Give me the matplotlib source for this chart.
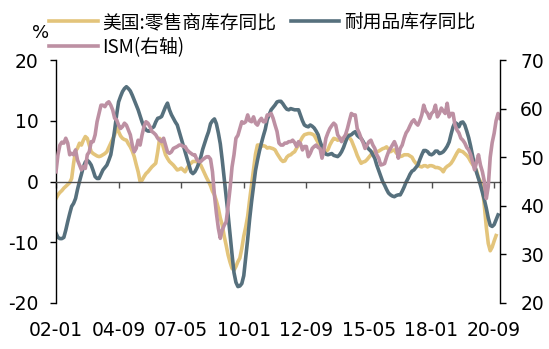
import numpy as np
import matplotlib
matplotlib.use("Agg")
import matplotlib.pyplot as plt

plt.rcParams["axes.unicode_minus"] = False

# ---------------- data (monthly, starting 2002-01) ----------------
retail_inv_yoy = [
    -2.8, -2.2, -1.8, -1.5, -1.1, -0.8, -0.5, -0.2, 0.5, 3.0, 5.0, 5.5,
    6.3, 6.0, 6.8, 7.4, 7.1, 6.0, 4.9, 4.6, 4.4, 4.2, 4.1, 4.2,
    4.4, 4.6, 4.9, 5.6, 6.3, 7.0, 7.7, 9.0, 8.2, 7.5, 7.1, 6.9,
    6.8, 6.2, 5.7, 5.0, 4.1, 2.8, 1.6, 0.0, 0.2, 0.8, 1.3, 1.6,
    2.0, 2.4, 2.7, 3.0, 4.9, 7.1, 6.6, 5.5, 4.4, 3.8, 3.3, 3.0,
    2.7, 2.3, 1.9, 2.0, 2.2, 1.9, 1.6, 2.2, 2.7, 3.0, 3.3, 3.3,
    3.3, 3.0, 2.7, 2.0, 1.3, 0.6, 0.0, -0.7, -1.6, -2.2, -3.2, -4.4,
    -6.0, -7.2, -9.0, -10.5, -12.1, -13.3, -14.3, -14.6, -14.0, -13.2, -12.6, -11.0,
    -9.0, -7.5, -5.7, -3.0, -0.5, 2.0, 4.5, 6.0, 6.0, 5.8, 5.9, 5.8,
    5.5, 5.6, 5.5, 5.4, 5.2, 4.6, 4.1, 3.6, 3.3, 3.4, 4.0, 4.3,
    4.4, 4.7, 4.9, 5.5, 6.0, 6.7, 7.3, 7.7, 7.8, 7.9, 7.9, 7.8,
    7.6, 7.0, 6.4, 5.6, 5.1, 4.9, 5.0, 5.2, 6.0, 6.6, 7.1, 7.0,
    6.8, 6.9, 7.1, 6.8, 7.3, 7.7, 7.2, 6.8, 6.0, 5.2, 4.3, 3.6,
    3.0, 3.2, 3.3, 3.6, 4.0, 4.4, 4.7, 4.9, 4.9, 5.0, 5.2, 5.4,
    5.5, 5.7, 5.3, 4.9, 5.1, 5.2, 4.7, 4.4, 4.1, 4.2, 4.4, 4.4,
    4.4, 4.2, 4.0, 3.4, 3.0, 2.7, 2.5, 2.4, 2.6, 2.6, 2.4, 2.6,
    2.6, 2.5, 2.3, 2.3, 2.2, 2.0, 1.6, 2.2, 2.5, 2.7, 3.0, 3.5,
    4.1, 4.7, 5.2, 5.0, 4.9, 4.6, 4.3, 3.9, 3.3, 2.8, 2.4, 1.8,
    0.6, 0.0, -1.0, -4.0, -7.5, -10.2, -11.4, -10.8, -9.8, -8.9,
]

durable_inv_yoy = [
    -8.5, -9.2, -9.4, -9.4, -9.2, -8.0, -6.6, -5.3, -4.1, -3.6, -2.8, -1.3,
    0.0, 1.2, 2.4, 3.2, 3.5, 3.2, 2.7, 1.8, 0.8, 0.5, 0.5, 1.2,
    1.9, 2.3, 2.7, 3.5, 4.4, 6.3, 8.5, 11.0, 13.1, 14.0, 14.8, 15.3,
    15.6, 15.3, 14.9, 14.2, 13.4, 12.6, 11.8, 10.8, 9.8, 9.0, 8.5, 8.3,
    8.3, 8.8, 9.0, 9.8, 10.4, 10.5, 10.7, 11.5, 12.3, 12.9, 11.8, 11.0,
    10.4, 9.8, 9.3, 8.2, 7.1, 6.0, 4.9, 3.8, 2.7, 1.6, 1.3, 1.6,
    2.2, 3.0, 4.0, 5.3, 6.3, 7.3, 8.2, 9.5, 10.0, 10.3, 9.5, 8.0,
    6.2, 3.5, 0.5, -2.5, -5.5, -8.8, -12.0, -15.0, -16.6, -17.3, -17.2, -16.8,
    -15.5, -12.5, -9.5, -6.2, -3.3, -0.8, 1.8, 3.5, 5.0, 6.3, 7.5, 8.6,
    10.2, 11.0, 11.8, 12.2, 12.6, 13.1, 13.2, 13.2, 12.8, 12.3, 11.9, 11.8,
    12.0, 11.9, 11.8, 11.8, 11.8, 10.9, 10.0, 9.3, 9.1, 9.0, 9.3, 9.1,
    8.8, 8.3, 7.7, 6.6, 5.7, 4.9, 4.5, 4.4, 4.5, 4.6, 4.3, 4.2,
    4.1, 4.4, 4.9, 5.6, 6.5, 7.3, 7.6, 7.7, 8.0, 8.2, 7.6, 7.3,
    7.1, 6.6, 6.0, 5.7, 5.3, 5.0, 4.4, 3.8, 2.7, 1.8, 0.9, 0.0,
    -0.6, -1.3, -1.9, -2.2, -2.4, -2.5, -2.3, -2.2, -2.2, -1.6, -0.9, -0.1,
    0.5, 1.2, 1.7, 1.9, 2.3, 2.7, 3.6, 4.4, 5.1, 5.1, 4.9, 4.5,
    4.4, 4.6, 5.0, 5.0, 4.6, 4.7, 4.9, 5.3, 5.8, 6.5, 7.8, 9.0,
    9.7, 9.5, 9.0, 9.7, 9.8, 9.3, 8.3, 7.2, 5.8, 4.2, 2.7, 1.5,
    0.5, -0.6, -1.8, -3.0, -4.4, -6.0, -7.2, -7.4, -7.1, -6.3, -5.5,
]

ism_pmi = [
    47.0, 50.5, 52.5, 53.1, 52.9, 53.9, 52.9, 50.5, 50.8, 50.5, 51.5, 49.4,
    48.4, 47.4, 48.1, 47.7, 50.5, 51.1, 53.2, 53.2, 54.6, 57.3, 59.0, 60.7,
    60.7, 60.4, 61.1, 61.4, 60.7, 59.7, 58.0, 57.7, 56.6, 55.9, 56.3, 57.0,
    56.6, 55.6, 54.6, 52.5, 51.1, 51.8, 53.5, 52.5, 54.6, 56.3, 57.3, 57.0,
    56.3, 55.3, 55.0, 54.6, 53.9, 53.5, 53.2, 53.9, 52.5, 51.1, 50.8, 51.1,
    51.8, 52.0, 52.2, 52.5, 52.5, 52.2, 52.2, 51.5, 51.1, 50.8, 50.5, 50.5,
    49.5, 49.1, 49.1, 49.5, 49.8, 50.1, 50.1, 49.6, 47.0, 42.2, 38.5, 35.4,
    33.3, 35.0, 36.0, 36.7, 40.0, 43.6, 48.0, 50.5, 53.9, 54.5, 55.9, 57.3,
    57.0, 57.3, 58.7, 57.5, 57.3, 58.3, 57.0, 56.6, 57.5, 58.0, 57.3, 57.3,
    58.7, 58.7, 59.0, 58.0, 56.6, 55.3, 52.9, 52.5, 52.5, 52.9, 52.9, 53.2,
    53.2, 53.5, 53.0, 52.2, 53.2, 52.8, 51.5, 52.2, 52.2, 50.1, 50.8, 51.8,
    52.2, 52.5, 52.0, 51.8, 49.8, 51.5, 53.9, 55.0, 55.9, 56.5, 57.0, 56.6,
    54.6, 54.0, 53.2, 54.0, 54.6, 55.9, 57.5, 59.0, 58.7, 58.7, 55.9, 55.0,
    53.9, 53.0, 51.8, 52.5, 53.2, 53.5, 52.5, 51.8, 50.5, 49.8, 48.4, 48.5,
    48.7, 50.0, 51.1, 51.8, 52.5, 53.2, 52.2, 49.8, 51.8, 52.5, 53.9, 55.0,
    55.6, 56.5, 57.3, 57.7, 57.0, 56.6, 57.5, 58.7, 60.7, 59.5, 59.0, 58.0,
    59.0, 59.4, 60.7, 58.3, 59.0, 60.1, 59.5, 59.0, 61.1, 58.3, 59.0, 59.0,
    56.6, 55.6, 55.0, 53.9, 53.5, 52.9, 52.0, 51.5, 50.5, 49.0, 47.4, 49.0,
    50.5, 48.4, 47.0, 45.0, 41.5, 44.0, 50.0, 53.0, 54.9, 57.5, 59.0, 58.0,
]

tick_labels = ["02-01", "04-09", "07-05", "10-01", "12-09", "15-05", "18-01", "20-09"]
series_names = ["美国:零售商库存同比", "耐用品库存同比", "ISM(右轴)"]

# ---------------- plotting ----------------
c_yellow = "#E3C47B"
c_dark = "#56707D"
c_mauve = "#BD90A3"

def month_index(lbl):
    yy, mm = lbl.split("-")
    return (int(yy) - 2) * 12 + (int(mm) - 1)

x_retail = np.arange(len(retail_inv_yoy))
x_dur = np.arange(len(durable_inv_yoy))
x_ism = np.arange(len(ism_pmi))
tick_pos = [month_index(t) for t in tick_labels]

fig = plt.figure(figsize=(5.49, 3.49), dpi=100)
ax = fig.add_axes([56 / 549, 46 / 349, 444 / 549, 243 / 349])
ax2 = ax.twinx()

lw = 2.6
l1, = ax.plot(x_retail, retail_inv_yoy, color=c_yellow, lw=lw, solid_joinstyle="round")
l2, = ax.plot(x_dur, durable_inv_yoy, color=c_dark, lw=lw, solid_joinstyle="round")
l3, = ax2.plot(x_ism, ism_pmi, color=c_mauve, lw=lw, solid_joinstyle="round")

xmax = len(ism_pmi) - 1
ax.set_xlim(0, xmax)
ax.set_ylim(-20, 20)
ax2.set_ylim(20, 70)
ax.set_yticks([-20, -10, 0, 10, 20])
ax2.set_yticks([20, 30, 40, 50, 60, 70])

fs = 13.5
for a in (ax, ax2):
    a.spines["top"].set_visible(False)
ax.spines["right"].set_visible(False)
ax2.spines["left"].set_visible(False)
ax2.spines["bottom"].set_visible(False)
ax.spines["left"].set_color("black")
ax2.spines["right"].set_color("black")
ax.spines["left"].set_linewidth(1.0)
ax2.spines["right"].set_linewidth(1.0)

ax.spines["bottom"].set_position(("data", 0))
ax.spines["bottom"].set_color("#505050")
ax.spines["bottom"].set_linewidth(1.0)
ax.set_xticks(tick_pos)
ax.tick_params(axis="x", direction="out", length=4.5, width=1.0, color="#505050",
               labelbottom=False)
ax.tick_params(axis="y", direction="out", length=4.5, width=1.0, pad=8, labelsize=fs)
ax2.tick_params(axis="y", direction="out", length=4.5, width=1.0, pad=10, labelsize=fs)

sec = ax.secondary_xaxis("bottom")
sec.spines["bottom"].set_visible(False)
sec.set_xticks(tick_pos)
sec.set_xticklabels(tick_labels)
sec.tick_params(axis="x", length=0, pad=13, labelsize=fs)

fig.text(41 / 549, 1 - 33 / 349, "%", fontsize=13, ha="center", va="center")

leg = fig.legend([l1, l3, l2], [series_names[0], series_names[2], series_names[1]],
                 loc="upper left",
                 bbox_to_anchor=(49 / 549, 1 - 12 / 349), ncol=2, frameon=False,
                 prop={"family": ["Noto Sans CJK SC Light", "Noto Sans CJK SC", "DejaVu Sans"],
                       "size": 13.5, "weight": "light"},
                 handlelength=2.6, handletextpad=0.25, columnspacing=0.75,
                 labelspacing=0.2, borderpad=0, borderaxespad=0)

fig.savefig("out.png", dpi=100)
